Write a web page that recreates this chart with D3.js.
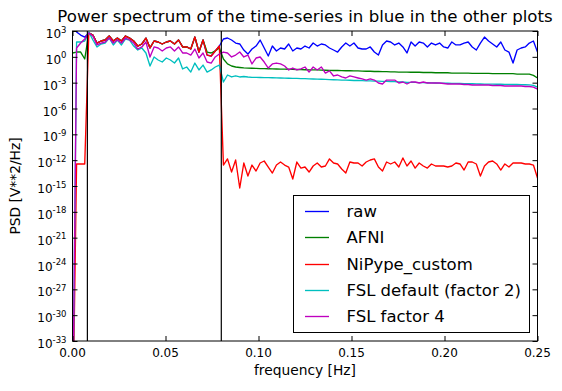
<!DOCTYPE html>
<html><head><meta charset="utf-8">
<script src="https://cdn.jsdelivr.net/npm/d3@7"></script>
<style>body{margin:0;background:#fff}svg{display:block}</style>
</head><body>
<svg id="c" width="562" height="391"></svg>
<script>
// frequency grid (Hz), evenly spaced bins from 0 to Nyquist 0.25 Hz
const freqStep = 0.25 / 114;
const frequencies = d3.range(115).map(i => i * freqStep);

const raw = [1e5, 770, 340, 200, 590, 340, 40, 69, 90, 260, 69, 150, 69, 260, 150, 69, 18, 31, 150, 11,
  69, 53, 31, 53, 69, 31, 90, 14, 14, 8.1, 200, 3.6, 90, 1.6, 1.25, 4.8, 18,
  118, 154, 90, 40, 31, 6.2, 2.1, 8.1, 18, 90, 10.6, 1.25, 18, 4.8, 10.6, 8.1, 31, 4.8, 10.6, 8.1,
  18, 10.6, 40, 18, 31, 24, 10.6, 6.2, 3.6, 14, 40, 18, 40, 10.6, 8.1, 8.1, 14, 3.6, 1.6, 24,
  69, 53, 24, 40, 14, 2.8, 53, 18, 53, 40, 14, 40, 24, 40, 14, 10.6, 53, 24, 24, 40,
  53, 14, 6.2, 40, 200, 69, 31, 14, 53, 6.2, 3.6, 0.19, 6.2, 10.6, 14, 40, 69, 3.6];

const afni = [2.8, 3.6, 3.6, 0.56, 590, 340, 40, 69, 90, 260, 69, 150, 69, 260, 150, 69, 18, 31, 150, 11,
  69, 53, 31, 53, 69, 31, 90, 14, 14, 8.1, 200, 3.6, 90, 3.6, 2.8, 4.8, 10.6,
  0.56, 0.15, 0.086, 0.066, 0.058, 0.052, 0.049, 0.047, 0.045, 0.043, 0.042, 0.041, 0.040, 0.039, 0.038, 0.037,
  0.036, 0.035, 0.034, 0.033, 0.032, 0.031, 0.030, 0.030, 0.029, 0.028, 0.027, 0.026, 0.026, 0.025, 0.024, 0.024,
  0.023, 0.023, 0.022, 0.021, 0.021, 0.020, 0.020, 0.019, 0.019, 0.018, 0.018, 0.017, 0.017, 0.017, 0.016, 0.016,
  0.016, 0.015, 0.015, 0.015, 0.014, 0.014, 0.014, 0.014, 0.013, 0.013, 0.013, 0.013, 0.013, 0.012, 0.012, 0.012,
  0.012, 0.012, 0.011, 0.011, 0.011, 0.011, 0.011, 0.011, 0.010, 0.010, 0.010, 0.0098, 0.0070, 0.0035];

const nipypeCustom = [1e-45, 3.6e-13, 3.6e-13, 3.6e-13, 590, 340, 40, 69, 90, 260, 69, 150, 69, 260, 150, 69, 18, 31, 150, 11,
  69, 53, 31, 53, 69, 31, 90, 14, 14, 8.1, 200, 3.6, 90, 1.6, 1.25, 4.8, 18,
  2.7e-13, 1.4e-12, 4.2e-14, 1.05e-12, 5.9e-16, 4.7e-13, 1.45e-14, 2.7e-13, 5.5e-14, 4.7e-13, 8.0e-13, 1.6e-13,
  3.2e-14, 2.7e-13, 6.1e-13, 2.7e-13, 1.6e-13, 6.5e-15, 6.1e-13, 1.2e-13, 1.6e-13, 4.2e-14, 2.1e-13, 4.7e-13,
  1.6e-13, 2.1e-13, 1.4e-12, 4.7e-13, 3.6e-13, 9.4e-14, 3.2e-14, 6.1e-13, 4.7e-13, 4.7e-13, 2.1e-13, 6.1e-13,
  1.05e-12, 1.4e-12, 1.6e-13, 5.5e-14, 6.1e-13, 3.6e-13, 6.1e-13, 1.6e-13, 1.8e-12, 2.1e-13, 8.0e-13, 1.2e-13,
  4.7e-13, 2.1e-13, 1.2e-13, 3.6e-13, 2.1e-13, 2.1e-13, 2.1e-13, 1.6e-13, 2.1e-13, 4.7e-13, 3.6e-13, 7.2e-14,
  6.1e-13, 6.1e-13, 3.6e-13, 1.45e-14, 2.1e-13, 6.1e-13, 8.0e-13, 3.6e-13, 7.2e-14, 3.6e-13, 1.6e-13, 4.7e-13,
  4.7e-13, 4.7e-13, 3.6e-13, 3.6e-13, 2.7e-13, 8.5e-15];

const fslDefault = [1e-45, 53, 53, 69, 770, 90, 14, 31, 40, 154, 24, 90, 24, 118, 90, 18, 6.2, 10.6, 2.8, 0.086,
  0.96, 0.43, 0.25, 0.73, 0.43, 0.19, 0.73, 0.039, 0.066, 0.017, 0.19, 0.030, 0.11, 0.017, 0.030, 0.066, 0.11,
  0.0012, 0.0078, 0.0046, 0.0060, 0.0046, 0.0052, 0.0046, 0.0042, 0.0041, 0.0040, 0.0039, 0.0038, 0.0037, 0.0036,
  0.0035, 0.0034, 0.0033, 0.0032, 0.0031, 0.0030, 0.0029, 0.0028, 0.0027, 0.0026, 0.0025, 0.0024, 0.0023, 0.0022,
  0.0021, 0.0020, 0.0020, 0.0019, 0.0018, 0.0018, 0.0017, 0.0016, 0.0016, 0.0015, 0.0015, 0.0014, 0.0014, 0.0013,
  0.0013, 0.0012, 0.0012, 0.0011, 0.0011, 0.0011, 0.0010, 0.0010, 0.00098, 0.00095, 0.00092, 0.00090, 0.00088,
  0.00086, 0.00084, 0.00082, 0.00080, 0.00078, 0.00076, 0.00074, 0.00072, 0.00070, 0.00069, 0.00068, 0.00067,
  0.00066, 0.00065, 0.00064, 0.00063, 0.00062, 0.00061, 0.00060, 0.00058, 0.00055, 0.00048, 0.00031];

const fslFactor4 = [1e-45, 10.6, 40, 118, 590, 260, 24, 40, 53, 154, 40, 90, 40, 154, 90, 40, 8.1, 14, 53, 0.96,
  14, 10.6, 4.8, 10.6, 14, 4.8, 14, 2.8, 2.8, 1.6, 8.1, 0.73, 2.8, 0.25, 0.19, 0.96, 2.1,
  3.6, 2.8, 0.96, 1.6, 3.6, 0.96, 1.6, 0.15, 0.73, 0.96, 0.25, 0.050, 0.15, 0.19, 0.15, 0.086, 0.030, 0.050,
  0.030, 0.039, 0.066, 0.017, 0.066, 0.030, 0.066, 0.013, 0.023, 0.0060, 0.0078, 0.0046, 0.0035, 0.0060, 0.0046,
  0.0035, 0.0027, 0.0020, 0.0027, 0.0020, 0.00092, 0.00070, 0.0020, 0.0020, 0.0020, 0.00092, 0.0012, 0.00070,
  0.0012, 0.0012, 0.00092, 0.0012, 0.00092, 0.00092, 0.00092, 0.00092, 0.00080, 0.00070, 0.00070, 0.00070,
  0.00070, 0.00061, 0.00061, 0.00054, 0.00054, 0.00054, 0.00054, 0.00054, 0.00047, 0.00047, 0.00047, 0.00041,
  0.00041, 0.00041, 0.00041, 0.00041, 0.00036, 0.00036, 0.00031, 0.00018];

const seriesNames = ["raw", "AFNI", "NiPype_custom", "FSL default (factor 2)", "FSL factor 4"];
const seriesColors = ["#0000ff", "#008000", "#ff0000", "#00bfbf", "#bf00bf"];
const seriesValues = [raw, afni, nipypeCustom, fslDefault, fslFactor4];

const cutoffFrequencies = [0.008, 0.08];
const xTicks = [0, 0.05, 0.10, 0.15, 0.20, 0.25];
const xTickLabels = ["0.00", "0.05", "0.10", "0.15", "0.20", "0.25"];
const yTickExponents = [3, 0, -3, -6, -9, -12, -15, -18, -21, -24, -27, -30, -33];

const titleText = "Power spectrum of the time-series in blue in the other plots";
const xLabelText = "frequency [Hz]";
const yLabelText = "PSD [V**2/Hz]";

// ---- layout ----
const pLeft = 72.5, pRight = 537.5, pTop = 31, pBottom = 341;
const FONT = "DejaVu Sans, Bitstream Vera Sans, sans-serif";
const LW = 1.35;
const svg = d3.select("#c");
svg.append("rect").attr("width", 562).attr("height", 391).attr("fill", "#fff");

const x = d3.scaleLinear().domain([0, 0.25]).range([pLeft, pRight]);
const y = d3.scaleLog().domain([1e-33, 1e3]).range([pBottom, pTop]);

svg.append("clipPath").attr("id", "clip").append("rect")
  .attr("x", pLeft).attr("y", pTop).attr("width", pRight - pLeft).attr("height", pBottom - pTop);

const plot = svg.append("g").attr("clip-path", "url(#clip)");
const lineGen = d3.line().x((d, i) => x(frequencies[i])).y(d => y(d));

seriesValues.forEach((vals, k) => {
  plot.append("path").datum(vals)
    .attr("d", lineGen)
    .style("fill", "none")
    .style("stroke", seriesColors[k])
    .style("stroke-width", LW)
    .style("stroke-linejoin", "round");
});

plot.selectAll("line.cut").data(cutoffFrequencies).enter().append("line")
  .attr("class", "cut")
  .attr("x1", d => x(d)).attr("x2", d => x(d))
  .attr("y1", pTop).attr("y2", pBottom)
  .style("stroke", "#000").style("stroke-width", 1.2);

// ---- axes (inward ticks on all four sides) ----
const tickLen = 5;
const yTickVals = yTickExponents.map(e => Math.pow(10, e));
function styleAxis(g) {
  g.select(".domain").remove();
  g.selectAll(".tick line").attr("stroke", "#000").attr("stroke-width", 1);
  g.selectAll(".tick text").remove();
}
svg.append("g").attr("transform", `translate(0,${pBottom})`)
  .call(d3.axisBottom(x).tickValues(xTicks).tickSizeInner(-tickLen).tickSizeOuter(0)).call(styleAxis);
svg.append("g").attr("transform", `translate(0,${pTop})`)
  .call(d3.axisTop(x).tickValues(xTicks).tickSizeInner(-tickLen).tickSizeOuter(0)).call(styleAxis);
svg.append("g").attr("transform", `translate(${pLeft},0)`)
  .call(d3.axisLeft(y).tickValues(yTickVals).tickSizeInner(-tickLen).tickSizeOuter(0)).call(styleAxis);
svg.append("g").attr("transform", `translate(${pRight},0)`)
  .call(d3.axisRight(y).tickValues(yTickVals).tickSizeInner(-tickLen).tickSizeOuter(0)).call(styleAxis);

svg.append("rect").attr("x", pLeft).attr("y", pTop)
  .attr("width", pRight - pLeft).attr("height", pBottom - pTop)
  .attr("fill", "none").attr("stroke", "#000").attr("stroke-width", 1);

// x tick labels
svg.selectAll("text.xt").data(xTicks).enter().append("text")
  .attr("class", "xt")
  .attr("x", d => x(d)).attr("y", pBottom + 16)
  .attr("text-anchor", "middle").attr("font-family", FONT).attr("font-size", 12)
  .text((d, i) => xTickLabels[i]);

// y tick labels 10^n
yTickExponents.forEach(e => {
  const ty = y(Math.pow(10, e));
  const t = svg.append("text").attr("x", pLeft - 6).attr("y", ty + 7)
    .attr("text-anchor", "end").attr("font-family", FONT).attr("font-size", 12);
  t.append("tspan").text("10");
  t.append("tspan").attr("dy", -5.5).attr("font-size", 8.5).text(e < 0 ? "-" + (-e) : String(e));
});

// titles
svg.append("text").attr("x", (pLeft + pRight) / 2).attr("y", 21.5)
  .attr("text-anchor", "middle").attr("font-family", FONT).attr("font-size", 16.6).text(titleText);
svg.append("text").attr("x", (pLeft + pRight) / 2).attr("y", 375)
  .attr("text-anchor", "middle").attr("font-family", FONT).attr("font-size", 13.8).text(xLabelText);
svg.append("text").attr("transform", `translate(20,${(pTop + pBottom) / 2}) rotate(-90)`)
  .attr("text-anchor", "middle").attr("font-family", FONT).attr("font-size", 13.8).text(yLabelText);

// legend
const lg = svg.append("g");
lg.append("rect").attr("x", 293.5).attr("y", 195.5).attr("width", 236).attr("height", 137)
  .attr("fill", "#fff").attr("stroke", "#000").attr("stroke-width", 1);
seriesNames.forEach((name, k) => {
  const cy = Math.round(210.7 + k * 26.4) + 0.5;
  lg.append("line").attr("x1", 305).attr("x2", 329).attr("y1", cy).attr("y2", cy)
    .style("stroke", seriesColors[k]).style("stroke-width", LW);
  lg.append("text").attr("x", 346.5).attr("y", cy + 5.5)
    .attr("font-family", FONT).attr("font-size", 16.5).text(name);
});
</script>
</body></html>
